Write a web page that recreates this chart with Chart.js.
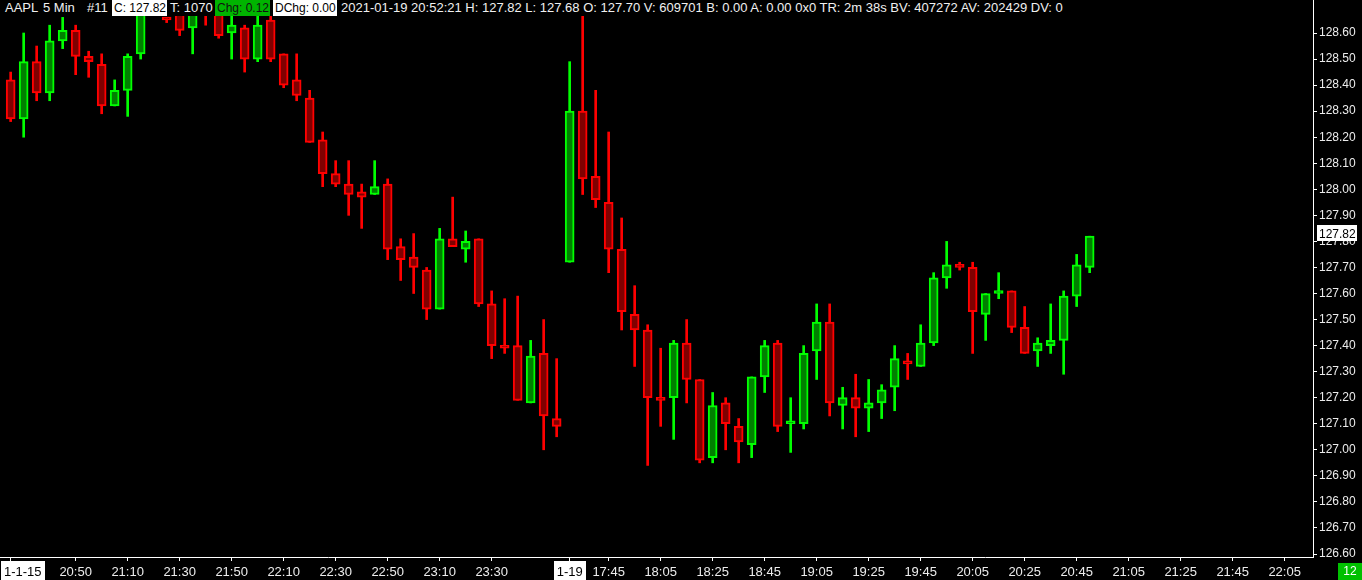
<!DOCTYPE html>
<html>
<head>
<meta charset="utf-8">
<script src="https://cdn.jsdelivr.net/npm/chart.js@4.4.1/dist/chart.umd.min.js"></script>
<style>
    html, body { margin: 0; padding: 0; background: #000; }
    #wrap { position: relative; width: 1362px; height: 580px; overflow: hidden; }
    #header { position: absolute; left: 0; top: 0; width: 1312px; height: 16px; background: #000;
              font: 13px "Liberation Sans", Arial, sans-serif; color: #f0f0f0; }
    #header span { position: absolute; top: 0; height: 16px; line-height: 16px; white-space: nowrap; }
    #header .box { background: #fff; color: #000; padding-left: 2px; font-size: 12px; }
    #header .chg { background: #00b400; color: #111; padding-left: 2px; font-size: 12px; }
</style>
</head>
<body>
<div id="wrap">
    <canvas id="chartAapl" width="1362" height="580"></canvas>
    <div id="header">
        <span style="left:5px">AAPL</span>
        <span style="left:43px">5 Min</span>
        <span style="left:87px">#11</span>
        <span class="box" style="left:112px;width:53px">C: 127.82</span>
        <span style="left:170px">T: 1070</span>
        <span class="chg" style="left:215px;width:53px">Chg: 0.12</span>
        <span class="box" style="left:273px;width:62px">DChg: 0.00</span>
        <span style="left:341px">2021-01-19 20:52:21 H: 127.82 L: 127.68 O: 127.70 V: 609701 B: 0.00 A: 0.00 0x0 TR: 2m 38s BV: 407272 AV: 202429 DV: 0</span>
    </div>
</div>
<script>
// 5 min bars, 1-15 20:25 .. 23:55 then 1-19 17:30 .. 20:50
const opens = [
    128.42, 128.27, 128.49, 128.37, 128.57, 128.61, 128.51, 128.48, 128.32, 128.38,
    128.52, 128.69, 128.66, 128.70, 128.62, 128.70, 128.69, 128.60, 128.62, 128.50,
    128.65, 128.52, 128.42, 128.35, 128.19, 128.06, 128.02, 127.99, 127.98, 128.02,
    127.78, 127.74, 127.69, 127.54, 127.81, 127.77, 127.81, 127.56, 127.40, 127.40,
    127.18, 127.37, 127.12, 127.72, 128.30, 128.05, 127.95, 127.77, 127.52, 127.46,
    127.20, 127.20, 127.41, 127.27, 126.97, 127.18, 127.09, 127.02, 127.28, 127.41,
    127.10, 127.10, 127.38, 127.49, 127.17, 127.20, 127.16, 127.18, 127.24, 127.34,
    127.32, 127.41, 127.66, 127.71, 127.70, 127.52, 127.60, 127.61, 127.47, 127.38,
    127.40, 127.42, 127.59, 127.70
];
const highs = [
    128.45, 128.60, 128.55, 128.63, 128.66, 128.63, 128.53, 128.52, 128.42, 128.52,
    128.71, 128.72, 128.66, 128.71, 128.72, 128.71, 128.70, 128.67, 128.63, 128.67,
    128.67, 128.52, 128.52, 128.38, 128.22, 128.11, 128.11, 128.02, 128.11, 128.04,
    127.81, 127.83, 127.70, 127.85, 127.97, 127.84, 127.81, 127.61, 127.58, 127.59,
    127.42, 127.50, 127.35, 128.49, 128.68, 128.38, 128.22, 127.89, 127.63, 127.48,
    127.39, 127.42, 127.50, 127.27, 127.22, 127.20, 127.12, 127.28, 127.42, 127.42,
    127.20, 127.40, 127.56, 127.56, 127.24, 127.29, 127.27, 127.25, 127.40, 127.37,
    127.48, 127.68, 127.80, 127.72, 127.72, 127.60, 127.68, 127.61, 127.55, 127.43,
    127.56, 127.61, 127.75, 127.82
];
const lows = [
    128.26, 128.20, 128.34, 128.34, 128.54, 128.44, 128.43, 128.29, 128.32, 128.28,
    128.50, 128.67, 128.64, 128.59, 128.52, 128.63, 128.58, 128.50, 128.45, 128.49,
    128.49, 128.39, 128.34, 128.18, 128.01, 128.01, 127.90, 127.85, 127.98, 127.73,
    127.65, 127.60, 127.50, 127.54, 127.78, 127.72, 127.55, 127.35, 127.37, 127.19,
    127.18, 127.00, 127.05, 127.72, 127.98, 127.93, 127.68, 127.46, 127.32, 126.94,
    127.09, 127.04, 127.18, 126.95, 126.95, 127.00, 126.95, 126.97, 127.22, 127.07,
    126.99, 127.08, 127.27, 127.13, 127.08, 127.05, 127.07, 127.12, 127.15, 127.27,
    127.32, 127.40, 127.62, 127.69, 127.37, 127.42, 127.58, 127.45, 127.37, 127.32,
    127.37, 127.29, 127.55, 127.68
];
const closes = [
    128.27, 128.49, 128.37, 128.57, 128.61, 128.51, 128.49, 128.32, 128.38, 128.51,
    128.69, 128.71, 128.65, 128.61, 128.69, 128.68, 128.59, 128.63, 128.50, 128.63,
    128.50, 128.40, 128.36, 128.18, 128.06, 128.02, 127.98, 127.97, 128.01, 127.77,
    127.73, 127.70, 127.54, 127.81, 127.78, 127.80, 127.56, 127.40, 127.39, 127.19,
    127.36, 127.13, 127.09, 128.30, 128.04, 127.96, 127.77, 127.53, 127.46, 127.20,
    127.19, 127.41, 127.27, 126.96, 127.17, 127.10, 127.03, 127.28, 127.40, 127.09,
    127.11, 127.37, 127.49, 127.18, 127.20, 127.16, 127.18, 127.23, 127.35, 127.33,
    127.41, 127.66, 127.71, 127.70, 127.53, 127.60, 127.60, 127.47, 127.37, 127.41,
    127.42, 127.59, 127.71, 127.82
];

// time axis labels (bar index -> text)
const tickIdx  = [0, 5, 9, 13, 17, 21, 25, 29, 33, 37, 43, 46, 50, 54, 58, 62, 66, 70, 74, 78, 82, 86, 90, 94, 98];
const tickText = ['1-1-15', '20:50', '21:10', '21:30', '21:50', '22:10', '22:30', '22:50', '23:10', '23:30',
                  '1-19', '17:45', '18:05', '18:25', '18:45', '19:05', '19:25', '19:45', '20:05', '20:25',
                  '20:45', '21:05', '21:25', '21:45', '22:05'];
const dateTicks = ['1-1-15', '1-19'];

const priceTicks = [126.6, 126.7, 126.8, 126.9, 127.0, 127.1, 127.2, 127.3, 127.4, 127.5, 127.6,
                    127.7, 127.8, 127.9, 128.0, 128.1, 128.2, 128.3, 128.4, 128.5, 128.6];
const lastPrice = 127.82;
const barCount = '12';

const FONT = '12px "Liberation Sans", Arial, sans-serif';
const up = closes.map((c, i) => c >= opens[i]);

// labels, last price box, bar counter
const overlay = {
    id: 'overlay',
    afterDraw(chart) {
        const { ctx, scales: { x, y } } = chart;
        ctx.save();
        ctx.font = '13px "Liberation Sans", Arial, sans-serif';
        ctx.textBaseline = 'middle';
        ctx.textAlign = 'center';
        tickIdx.forEach((v, k) => {
            const txt = tickText[k];
            const w = ctx.measureText(txt).width;
            let px = x.getPixelForValue(v);
            if (px - w / 2 < 4) px = 4 + w / 2;
            if (dateTicks.includes(txt)) {
                ctx.fillStyle = '#fff';
                ctx.fillRect(Math.round(px - w / 2 - 3), 561, Math.round(w + 6), 19);
                ctx.fillStyle = '#000';
            } else {
                ctx.fillStyle = '#ececec';
            }
            ctx.fillText(txt, px, 572);
        });

        // current price marker on the axis
        ctx.font = FONT;
        const py = y.getPixelForValue(lastPrice) - 3;
        ctx.fillStyle = '#fff';
        ctx.fillRect(1317, Math.round(py - 8), 40, 16);
        ctx.fillStyle = '#000';
        ctx.textAlign = 'left';
        ctx.fillText(lastPrice.toFixed(2), 1319, py + 1);

        // bar counter
        ctx.fillStyle = '#00c000';
        ctx.fillRect(1338, 563, 24, 17);
        ctx.fillStyle = '#fff';
        ctx.textAlign = 'center';
        ctx.fillText(barCount, 1350, 572);
        ctx.restore();
    }
};

new Chart(document.getElementById('chartAapl'), {
    type: 'bar',
    data: {
        datasets: [
            {
                // candle bodies
                data: opens.map((o, i) => ({ x: i, y: [o, closes[i]] })),
                backgroundColor: up.map(u => u ? '#008000' : '#800000'),
                borderColor: up.map(u => u ? '#00ff00' : '#ff0000'),
                borderWidth: 2,
                borderSkipped: false,
                barThickness: 9,
                minBarLength: 3,
                grouped: false,
                order: 1
            },
            {
                // wicks
                data: lows.map((l, i) => ({ x: i, y: [l, highs[i]] })),
                backgroundColor: up.map(u => u ? '#00ff00' : '#ff0000'),
                borderWidth: 0,
                barThickness: 2,
                grouped: false,
                order: 2
            }
        ]
    },
    options: {
        responsive: false,
        animation: false,
        layout: { padding: 0 },
        plugins: {
            legend: { display: false },
            tooltip: { enabled: false }
        },
        scales: {
            x: {
                type: 'linear',
                offset: false,
                min: -0.82,
                max: 100.18,
                grid: { display: true, offset: false, drawOnChartArea: false, drawTicks: true, tickLength: 4, color: '#fff' },
                border: { display: true, color: '#fff', width: 1 },
                ticks: { display: false },
                afterBuildTicks: s => { s.ticks = tickIdx.map(v => ({ value: v })); },
                afterFit: s => { s.height = 23; s.paddingLeft = 0; s.paddingRight = 0; }
            },
            y: {
                position: 'right',
                min: 126.5885,
                max: 128.7267,
                grid: { drawOnChartArea: false, drawTicks: true, tickLength: 4, color: '#fff' },
                border: { display: true, color: '#fff', width: 1 },
                ticks: {
                    color: '#ececec',
                    font: { family: '"Liberation Sans", Arial, sans-serif', size: 12 },
                    padding: 2,
                    callback: v => v.toFixed(2)
                },
                afterBuildTicks: s => { s.ticks = priceTicks.map(v => ({ value: v })); },
                afterFit: s => { s.width = 49; s.paddingTop = 0; s.paddingBottom = 0; }
            }
        }
    },
    plugins: [overlay]
});
</script>
</body>
</html>
